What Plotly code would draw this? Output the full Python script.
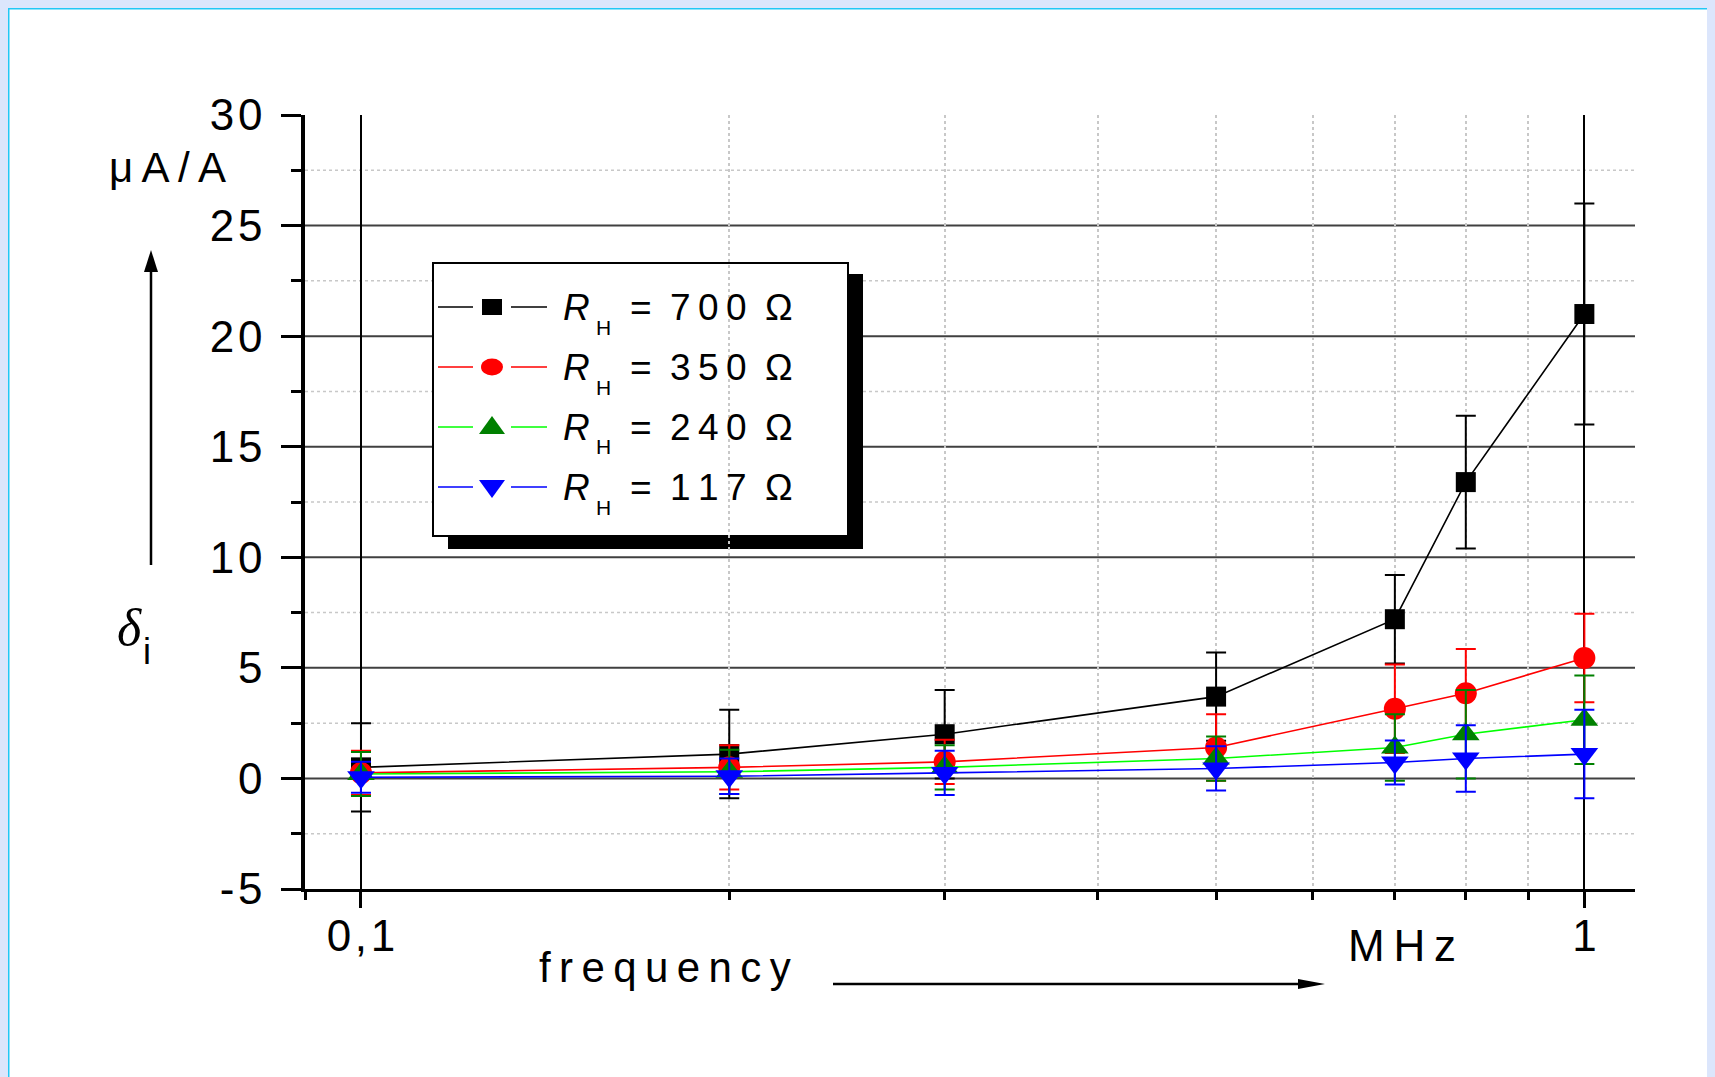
import math
import plotly.graph_objects as go

# ---------------- data ----------------
freq_mhz = [0.1, 0.2, 0.3, 0.5, 0.7, 0.8, 1.0]

delta_700 = [0.5, 1.1, 2.0, 3.7, 7.2, 13.4, 21.0]
err_700 = [2.0, 2.0, 2.0, 2.0, 2.0, 3.0, 5.0]

delta_350 = [0.25, 0.5, 0.75, 1.4, 3.15, 3.85, 5.45]
err_350 = [1.0, 1.0, 1.0, 1.5, 2.0, 2.0, 2.0]

delta_240 = [0.2, 0.3, 0.5, 0.9, 1.4, 2.0, 2.65]
err_240 = [1.0, 1.0, 1.0, 1.0, 1.5, 2.0, 2.0]

delta_117 = [0.05, 0.1, 0.25, 0.45, 0.72, 0.9, 1.1]
err_117 = [0.7, 0.8, 1.0, 1.0, 1.0, 1.5, 2.0]

legend_values = ["700", "350", "240", "117"]

x_tickvals = [0.1, 1]
x_ticktext = ["0,1", "1"]
x_minor_vals = [0.09, 0.2, 0.3, 0.4, 0.5, 0.6, 0.7, 0.8, 0.9]

y_tickvals = [-5, 0, 5, 10, 15, 20, 25, 30]
y_minor_vals = [-2.5, 2.5, 7.5, 12.5, 17.5, 22.5, 27.5]
y_major_grid = [0, 5, 10, 15, 20, 25]

# ---------------- geometry helpers (page pixel coordinates) ----------------
PAGE_W, PAGE_H = 1715, 1077
OFF = 8  # body margin of the html page
W, H = PAGE_W - OFF, PAGE_H - OFF
L, R, T, B = 305, 1635, 115, 889  # plot area in page pixels


def px(x):
    return (x - L) / (R - L)


def py(y):
    return (B - y) / (B - T)


FONT = "Liberation Sans, Arial, sans-serif"
SERIF = "Liberation Serif, Times New Roman, serif"
HS = "\u200a"
TS = "\u2009"

y_ticktext = [HS.join(str(v)) for v in y_tickvals]
x_ticktext_sp = [HS.join(t) for t in x_ticktext]

series = [
    dict(y=delta_700, e=err_700, line="#000000", mark="#000000", err="#000000", sym="square", size=20),
    dict(y=delta_350, e=err_350, line="#ff0000", mark="#ff0000", err="#ff0000", sym="circle", size=22),
    dict(y=delta_240, e=err_240, line="#00ff00", mark="#008000", err="#008000", sym="triangle-up", size=24),
    dict(y=delta_117, e=err_117, line="#0000ff", mark="#0000ff", err="#0000ff", sym="triangle-down", size=24),
]

fig = go.Figure()
for s in series:
    fig.add_trace(go.Scatter(
        x=freq_mhz, y=s["y"], mode="lines+markers",
        line=dict(color=s["line"], width=1.6),
        marker=dict(symbol=s["sym"], size=s["size"], color=s["mark"], line=dict(width=0)),
        error_y=dict(type="data", array=s["e"], symmetric=True, color=s["err"], thickness=2, width=10),
        showlegend=False, cliponaxis=False,
    ))

shapes = []
# cyan frame lines at the top and left edges
shapes.append(dict(type="line", xref="paper", yref="paper", x0=px(OFF), x1=px(PAGE_W), y0=py(OFF + 0.5), y1=py(OFF + 0.5),
                   line=dict(color="#22c8f5", width=2), layer="below"))
shapes.append(dict(type="line", xref="paper", yref="paper", x0=px(OFF + 0.5), x1=px(OFF + 0.5), y0=py(OFF), y1=py(PAGE_H),
                   line=dict(color="#22c8f5", width=2), layer="below"))

# horizontal grid lines
for v in y_minor_vals:
    shapes.append(dict(type="line", xref="paper", yref="y", x0=0, x1=1, y0=v, y1=v,
                       line=dict(color="#c8c8c8", width=1.5, dash="dot"), layer="between"))
for v in y_major_grid:
    shapes.append(dict(type="line", xref="paper", yref="y", x0=0, x1=1, y0=v, y1=v,
                       line=dict(color="#404040", width=2), layer="between"))

# legend box with shadow
shapes.append(dict(type="rect", xref="paper", yref="paper", x0=px(448), x1=px(863), y0=py(274), y1=py(549),
                   fillcolor="black", line=dict(width=0), layer="between"))
shapes.append(dict(type="rect", xref="paper", yref="paper", x0=px(433), x1=px(848), y0=py(263), y1=py(536),
                   fillcolor="white", line=dict(color="black", width=2), layer="between"))

rows_y = [307, 367, 427, 487]
for s, yy in zip(series, rows_y):
    for xa, xb in [(438, 473), (511, 547)]:
        shapes.append(dict(type="line", xref="paper", yref="paper", x0=px(xa), x1=px(xb), y0=py(yy), y1=py(yy),
                           line=dict(color=s["line"], width=1.5), layer="between"))
    cx = 492
    if s["sym"] == "square":
        shapes.append(dict(type="rect", xref="paper", yref="paper", x0=px(cx - 10), x1=px(cx + 10),
                           y0=py(yy - 8), y1=py(yy + 8), fillcolor=s["mark"], line=dict(width=0), layer="between"))
    elif s["sym"] == "circle":
        shapes.append(dict(type="circle", xref="paper", yref="paper", x0=px(cx - 11), x1=px(cx + 11),
                           y0=py(yy - 8.5), y1=py(yy + 8.5), fillcolor=s["mark"], line=dict(width=0), layer="between"))
    elif s["sym"] == "triangle-up":
        path = f"M {px(cx)},{py(yy - 11)} L {px(cx - 13)},{py(yy + 7)} L {px(cx + 13)},{py(yy + 7)} Z"
        shapes.append(dict(type="path", xref="paper", yref="paper", path=path,
                           fillcolor=s["mark"], line=dict(width=0), layer="between"))
    else:
        path = f"M {px(cx)},{py(yy + 11)} L {px(cx - 13)},{py(yy - 7)} L {px(cx + 13)},{py(yy - 7)} Z"
        shapes.append(dict(type="path", xref="paper", yref="paper", path=path,
                           fillcolor=s["mark"], line=dict(width=0), layer="between"))

# arrows
shapes.append(dict(type="line", xref="paper", yref="paper", x0=px(151), x1=px(151), y0=py(565), y1=py(268),
                   line=dict(color="black", width=2.5), layer="above"))
shapes.append(dict(type="path", xref="paper", yref="paper",
                   path=f"M {px(151)},{py(250)} L {px(144)},{py(272)} L {px(158)},{py(272)} Z",
                   fillcolor="black", line=dict(width=0), layer="above"))
shapes.append(dict(type="line", xref="paper", yref="paper", x0=px(833), x1=px(1305), y0=py(984), y1=py(984),
                   line=dict(color="black", width=2.5), layer="above"))
shapes.append(dict(type="path", xref="paper", yref="paper",
                   path=f"M {px(1325)},{py(984)} L {px(1298)},{py(979)} L {px(1298)},{py(989)} Z",
                   fillcolor="black", line=dict(width=0), layer="above"))

annotations = []


def ann(text, x, y, size, family=FONT, xanchor="left"):
    annotations.append(dict(text=text, xref="paper", yref="paper", x=px(x), y=py(y),
                            xanchor=xanchor, yanchor="middle", showarrow=False,
                            font=dict(size=size, family=family, color="black")))


ann(TS.join(["\u03bc", "A", "/", "A"]), 107, 168, 42)
ann("<i>\u03b4</i>", 115, 627, 52, family=SERIF)
ann("i", 141, 651, 36)
ann(TS.join("frequency"), 537, 968, 42)
ann(TS.join("MHz"), 1346, 945, 44)

for val, yy in zip(legend_values, rows_y):
    ann("<i>R</i>", 561, yy, 37)
    ann("H", 594, yy + 20, 21)
    ann("=", 628, yy, 37)
    ann(TS.join(val), 668, yy, 37)
    ann("\u03a9", 763, yy, 37)

fig.update_layout(
    width=W, height=H,
    margin=dict(l=L - OFF, r=PAGE_W - R, t=T - OFF, b=PAGE_H - B, pad=0),
    paper_bgcolor="white", plot_bgcolor="white",
    showlegend=False,
    font=dict(family=FONT, color="black"),
    shapes=shapes, annotations=annotations,
    xaxis=dict(
        type="log", range=[math.log10(0.09), math.log10(1.1)],
        tickmode="array", tickvals=x_tickvals, ticktext=x_ticktext_sp,
        ticks="outside", ticklen=16, tickwidth=3, tickcolor="black",
        showline=True, linecolor="black", linewidth=3,
        showgrid=True, gridcolor="black", gridwidth=2, zeroline=False,
        tickfont=dict(size=44, family=FONT, color="black"), ticklabelstandoff=-10,
        minor=dict(tickmode="array", tickvals=x_minor_vals, ticks="outside", ticklen=8, tickwidth=3,
                   tickcolor="black", showgrid=True, gridcolor="#c8c8c8", gridwidth=1.5, griddash="dot"),
    ),
    yaxis=dict(
        range=[-5, 30],
        tickmode="array", tickvals=y_tickvals, ticktext=y_ticktext,
        ticks="outside", ticklen=20, tickwidth=3, tickcolor="black",
        showline=True, linecolor="black", linewidth=3.5,
        showgrid=False, zeroline=False,
        tickfont=dict(size=44, family=FONT, color="black"), ticklabelstandoff=10,
        minor=dict(tickmode="array", tickvals=y_minor_vals, ticks="outside", ticklen=10, tickwidth=3,
                   tickcolor="black", showgrid=False),
    ),
)

fig.write_html("out.html", post_script="document.body.style.background='#dce6fc';")
